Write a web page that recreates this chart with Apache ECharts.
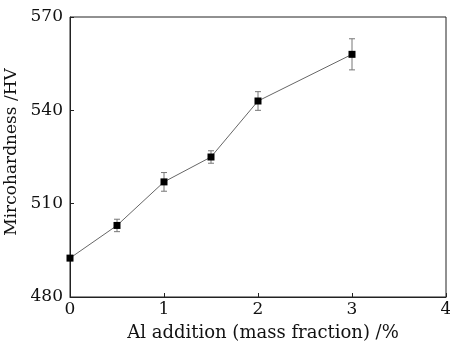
<!DOCTYPE html>
<html><head><meta charset="utf-8">
<script src="https://cdn.jsdelivr.net/npm/echarts@6/dist/echarts.min.js"></script>
<style>html,body{margin:0;padding:0;background:#fff}#c{width:450px;height:344px}</style>
</head><body><div id="c"></div>
<script>
var alAddition = [0, 0.5, 1, 1.5, 2, 3];
var hardness = [492.5, 503, 517, 525, 543, 558];
var errors = [0, 2, 3, 2, 3, 5];
var xTicks = [0, 1, 2, 3, 4];
var yTicks = [480, 510, 540, 570];

var chart = echarts.init(document.getElementById('c'));
var font = 'DejaVu Serif';
var pts = alAddition.map(function (x, i) { return [x, hardness[i]]; });
var errData = alAddition.map(function (x, i) { return [x, hardness[i] - errors[i], hardness[i] + errors[i]]; });

chart.setOption({
  animation: false,
  grid: { left: 70, right: 4, top: 17, bottom: 47, show: true, borderColor: '#222', borderWidth: 1,
          containLabel: false, outerBoundsMode: 'none' },
  xAxis: {
    type: 'value', min: 0, max: 4, interval: 1,
    name: 'Al addition (mass fraction) /%', nameLocation: 'middle', nameGap: 27,
    nameTextStyle: { fontFamily: font, fontSize: 18, color: '#111', padding: [0, 0, 0, 10] },
    axisLine: { show: true, lineStyle: { color: '#222', width: 1 } },
    axisTick: { show: true, inside: true, length: 4, lineStyle: { color: '#222' } },
    axisLabel: { fontFamily: font, fontSize: 17, color: '#111', margin: 4 },
    splitLine: { show: false }
  },
  yAxis: {
    type: 'value', min: 480, max: 570, interval: 30,
    name: 'Mircohardness /HV', nameLocation: 'middle', nameGap: 41,
    nameTextStyle: { fontFamily: font, fontSize: 17, color: '#111', padding: [0, 0, 0, 10] },
    axisLine: { show: true, lineStyle: { color: '#222', width: 1 } },
    axisTick: { show: true, inside: true, length: 4, lineStyle: { color: '#222' } },
    axisLabel: { fontFamily: font, fontSize: 17, color: '#111', margin: 7 },
    splitLine: { show: false }
  },
  series: [
    {
      type: 'custom',
      data: errData,
      renderItem: function (params, api) {
        var x = api.value(0);
        var lo = api.coord([x, api.value(1)]);
        var hi = api.coord([x, api.value(2)]);
        var w = 3;
        var st = { stroke: '#777', lineWidth: 1 };
        return {
          type: 'group',
          children: [
            { type: 'line', shape: { x1: lo[0], y1: lo[1], x2: hi[0], y2: hi[1] }, style: st },
            { type: 'line', shape: { x1: lo[0] - w, y1: lo[1], x2: lo[0] + w, y2: lo[1] }, style: st },
            { type: 'line', shape: { x1: hi[0] - w, y1: hi[1], x2: hi[0] + w, y2: hi[1] }, style: st }
          ]
        };
      },
      z: 1
    },
    {
      type: 'line',
      data: pts,
      symbol: 'rect', symbolSize: 7,
      lineStyle: { color: '#666', width: 1 },
      itemStyle: { color: '#000' },
      z: 2
    }
  ]
});
</script></body></html>
